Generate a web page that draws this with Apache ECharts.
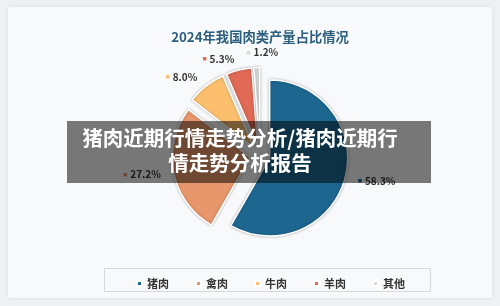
<!DOCTYPE html>
<html>
<head>
<meta charset="utf-8">
<script src="https://cdn.jsdelivr.net/npm/echarts@6/dist/echarts.min.js"></script>
<style>
  html, body { margin: 0; padding: 0; background: #eef0f2; }
  #main { width: 500px; height: 306px; }
</style>
</head>
<body>
<div id="main"></div>
<script>
const categories = ['猪肉', '禽肉', '牛肉', '羊肉', '其他']
const shares = [58.3, 27.2, 8.0, 5.3, 1.2]
const titleText = '2024年我国肉类产量占比情况'
const bannerLines = ['猪肉近期行情走势分析/猪肉近期行', '情走势分析报告']

const colors = ['#1c6690', '#e8966b', '#fbbf6e', '#e06a55', '#d8dcd7']
const cjk = '"Noto Sans CJK SC", "Noto Sans", sans-serif'

const chart = echarts.init(document.getElementById('main'), null, { renderer: 'canvas' })

const pieData = categories.map((name, i) => ({
  name: name,
  value: shares[i],
  selected: true,
  itemStyle: { color: colors[i] },
  label: {
    rich: {
      m: { color: colors[i], fontSize: 7, padding: [0, 3, 0, 0] },
      v: { color: '#333', fontSize: 10, fontWeight: 'bold', fontFamily: cjk },
    },
  },
}))

const bannerText = (text, x, y) => ({
  type: 'text', z: 51, x: x, y: y,
  style: {
    text: text, fill: '#fff',
    fontSize: 20.5, fontWeight: 'bold', fontFamily: cjk,
    align: 'center', verticalAlign: 'middle',
  },
})

const option = {
  backgroundColor: '#eef0f2',
  animation: false,
  graphic: [
    {
      type: 'rect', z: -10,
      shape: { x: 8, y: 7, width: 484, height: 291, r: 2 },
      style: { fill: '#f8f9fa', shadowBlur: 4, shadowColor: 'rgba(0,0,0,0.08)' },
    },
    {
      type: 'rect', z: -5,
      shape: { x: 104.5, y: 268.5, width: 326, height: 23 },
      style: { fill: 'none', stroke: '#d6d9dc', lineWidth: 1 },
    },
    {
      type: 'rect', z: 50,
      shape: { x: 67, y: 121, width: 364, height: 62 },
      style: { fill: 'rgba(0,0,0,0.52)' },
    },
    bannerText(bannerLines[0], 240, 138),
    bannerText(bannerLines[1], 240, 163),
  ],
  title: {
    text: titleText,
    left: 255,
    textAlign: 'center',
    top: 25,
    textStyle: { fontSize: 13.3, fontWeight: 'bold', color: '#2b5f7d', fontFamily: cjk },
  },
  legend: {
    data: categories,
    left: 131,
    top: 273,
    icon: 'rect',
    itemWidth: 5,
    itemHeight: 5,
    itemGap: 26,
    selectedMode: false,
    textStyle: { fontSize: 11, fontWeight: 'bold', color: '#333', fontFamily: cjk },
  },
  series: [
    {
      type: 'pie',
      center: [260, 155.5],
      radius: [0, 78],
      startAngle: 90,
      selectedMode: 'multiple',
      selectedOffset: 10,
      avoidLabelOverlap: false,
      itemStyle: {
        borderColor: '#fff',
        borderWidth: 1.5,
        shadowBlur: 3,
        shadowColor: 'rgba(0,0,0,0.25)',
      },
      label: {
        show: true,
        position: 'outside',
        distanceToLabelLine: 2,
        formatter: p => '{m|■}{v|' + p.value.toFixed(1) + '%}',
      },
      labelLine: { show: false, length: 11, length2: 0 },
      // the small last slice has its label to the right in the original
      labelLayout: p => (p.dataIndex === categories.length - 1 ? { align: 'left', dx: -8, dy: -4 } : {}),
      emphasis: { disabled: true },
      data: pieData,
    },
  ],
}

chart.setOption(option)
</script>
</body>
</html>
